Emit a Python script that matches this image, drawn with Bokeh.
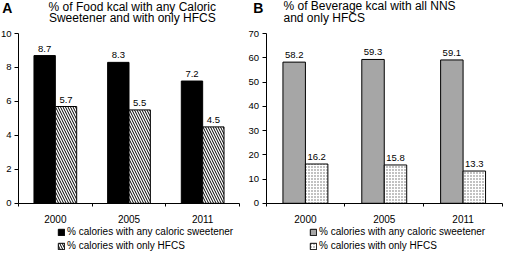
from bokeh.plotting import figure
from bokeh.models import (ColumnDataSource, LabelSet, Label, Legend,
                          LegendItem, FixedTicker, Range1d)
from bokeh.layouts import row
from bokeh.transform import dodge
from bokeh.embed import file_html
from bokeh.resources import INLINE
from bokeh.core.properties import value

years = ["2000", "2005", "2011"]
food_any = [8.7, 8.3, 7.2]
food_hfcs = [5.7, 5.5, 4.5]
bev_nns = [58.2, 59.3, 59.1]
bev_hfcs = [16.2, 15.8, 13.3]
food_ticks = [0, 2, 4, 6, 8, 10]
bev_ticks = [0, 10, 20, 30, 40, 50, 60, 70]
legend_any = "% calories with any caloric sweetener"
legend_hfcs = "% calories with only HFCS"
title_a = ["% of Food kcal with any Caloric", "Sweetener and with only HFCS"]
title_b = ["% of Beverage kcal with all NNS", "and only HFCS"]

FONT = "Liberation Sans"
H = 252
SX = 504 / 520   # reference px -> figure px
SY = 252 / 260


def panel(vals1, vals2, ymax, ticks, w, fig_x0, ax_left, ax_right, y0_px,
          ytop_px, bw, fill1, hatch2, fill2, hatch_col, hatch_scale,
          leg_x, titles, title_ys, talign, title_x, letter, letter_x):
    n = len(years)
    xs = [i + 0.5 for i in range(n)]
    src = ColumnDataSource(dict(
        x=xs, a=vals1, b=vals2,
        al=[f"{v:.1f}" for v in vals1], bl=[f"{v:.1f}" for v in vals2]))
    ux = (ax_right - ax_left) / n          # px per category
    uy = (y0_px - ytop_px) / ymax          # px per y unit
    xr = Range1d(-ax_left / ux, n + (w - ax_right) / ux)
    yr = Range1d(-(H - y0_px) / uy, ymax + ytop_px / uy)
    p = figure(x_range=xr, y_range=yr, width=w, height=H,
               output_backend="svg", toolbar_location=None, min_border=0)
    p.title.visible = False
    p.xgrid.visible = False
    p.ygrid.visible = False
    p.outline_line_color = None
    p.background_fill_color = "white"
    p.border_fill_color = "white"

    xa, ya = p.xaxis[0], p.yaxis[0]
    for ax in (xa, ya):
        ax.axis_line_color = "black"
        ax.major_label_text_font = FONT
        ax.major_label_text_color = "black"
    xa.major_label_text_font_size = "10px"
    ya.major_label_text_font_size = "9.5px"
    xa.fixed_location = 0
    xa.bounds = (0, n)
    xa.ticker = FixedTicker(ticks=xs, minor_ticks=list(range(n + 1)))
    xa.major_label_overrides = {x: y for x, y in zip(xs, years)}
    xa.major_tick_line_color = None
    xa.minor_tick_out = 3
    xa.minor_tick_in = 0
    xa.minor_tick_line_color = "black"
    xa.major_label_standoff = 6
    ya.fixed_location = 0
    ya.bounds = (0, ymax)
    ya.ticker = FixedTicker(ticks=ticks)
    ya.major_tick_out = 4
    ya.major_tick_in = 0
    ya.minor_tick_line_color = None
    ya.major_label_standoff = 3

    r1 = p.vbar(x=dodge("x", -bw / 2), top="a", width=bw, source=src,
                fill_color=fill1, line_color="black", line_width=1)
    r2 = p.vbar(x=dodge("x", bw / 2), top="b", width=bw, source=src,
                fill_color=fill2, line_color="black", line_width=1,
                hatch_pattern=hatch2, hatch_color=hatch_col,
                hatch_scale=hatch_scale, hatch_weight=1)
    for col, off in (("a", -bw / 2), ("b", bw / 2)):
        p.add_layout(LabelSet(x=dodge("x", off), y=col, text=col + "l",
                              source=src, y_offset=4, text_align="center",
                              text_baseline="bottom", text_font=value(FONT),
                              text_font_size="9.5px", text_color="black"))
    leg = Legend(items=[LegendItem(label=legend_any, renderers=[r1]),
                        LegendItem(label=legend_hfcs, renderers=[r2])],
                 orientation="vertical", border_line_color=None,
                 background_fill_alpha=0, glyph_width=8, glyph_height=8,
                 label_standoff=2, spacing=3, padding=0, margin=0,
                 location=(leg_x, 1),
                 label_text_font=FONT, label_text_font_size="10px",
                 label_height=10, label_text_color="black")
    p.add_layout(leg)

    # text placed by reference-picture pixel position
    def dx(ref_x):
        return (ref_x * SX - fig_x0 - ax_left) / ux

    def dy(ref_y):
        return (y0_px - ref_y * SY) / uy

    for txt, ry in zip(titles, title_ys):
        p.add_layout(Label(x=dx(title_x), y=dy(ry), text=txt,
                           text_align=talign, text_baseline="middle",
                           text_font=FONT, text_font_size="12px",
                           text_color="black"))
    p.add_layout(Label(x=dx(letter_x), y=dy(8), text=letter,
                       text_align="center", text_baseline="middle",
                       text_font=FONT, text_font_size="14px",
                       text_font_style="bold", text_color="black"))
    return p


p1 = panel(food_any, food_hfcs, 10, food_ticks, 247, 0, 18, 239, 202.8, 33,
           0.29, "black", "\\", "white", "black", 5, 57,
           title_a, (6.5, 18.5), "center", 136, "A", 7)
p2 = panel(bev_nns, bev_hfcs, 70, bev_ticks, 257, 247, 18.5, 255, 202.8, 33,
           0.285, "#a6a6a6", "dot", "white", "#666666", 3, 62,
           title_b, (6, 18.5), "left", 292, "B", 266)

layout = row(p1, p2)
open("out.html", "w").write(file_html(layout, INLINE))
